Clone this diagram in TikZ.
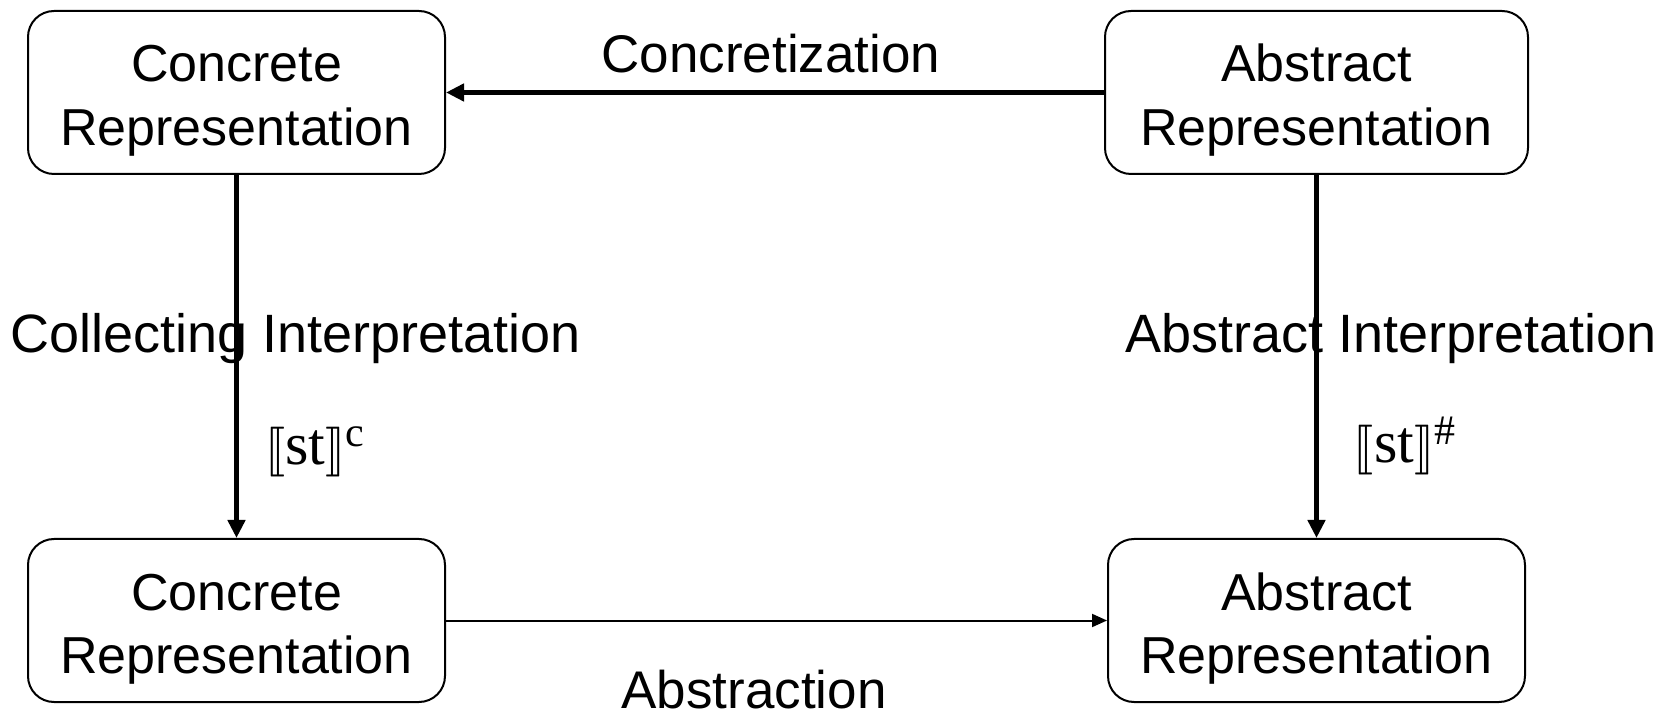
\documentclass[tikz,border=0pt]{standalone}
\usepackage{fontspec}
\usepackage{stmaryrd}
\setmainfont{Liberation Sans}
\newfontfamily\semfont{Liberation Serif}
\usepackage{tikz}
\usetikzlibrary{arrows.meta}
\usetikzlibrary{positioning}

\tikzset{
	repbox/.style={rectangle,draw,rounded corners=13pt,line width=1pt,minimum width=208.5pt,minimum height=81.5pt,align=center,text height=59pt,text depth=5.5pt,font=\fontsize{26}{32}\selectfont},
	steplabel/.style={font=\fontsize{26.5}{32}\selectfont,anchor=base,inner sep=0pt},
	semlabel/.style={font=\semfont\fontsize{30}{34}\selectfont,inner sep=0pt},
	thickarrow/.style={line width=2.5pt,-{Triangle[length=9pt,width=8.5pt]}},
	thinarrow/.style={line width=1pt,-{Triangle[length=7.5pt,width=6.5pt]}}
}

\begin{document}
\begin{tikzpicture}[x=0.5pt,y=-0.5pt]
	\useasboundingbox (0,0) rectangle (1677,716);
	\node[repbox] (ConcreteTop) at (236.5,92.5) {Concrete\\Representation};
	\node[repbox,minimum width=211.5pt] (AbstractTop) at (1316.5,92.5) {Abstract\\Representation};
	\node[repbox] (ConcreteBottom) at (236.5,620.5) {Concrete\\Representation};
	\node[repbox] (AbstractBottom) at (1316.5,620.5) {Abstract\\Representation};
	\draw[thickarrow] (AbstractTop) -- (ConcreteTop);
	\draw[thickarrow] (ConcreteTop) -- (ConcreteBottom);
	\draw[thickarrow] (AbstractTop) -- (AbstractBottom);
	\draw[thinarrow] (ConcreteBottom) -- (AbstractBottom);
	\node[steplabel] (Concretization) at (771,73) {Concretization};
	\node[steplabel] (Abstraction) at (754,708) {Abstraction};
	\node[steplabel,font=\fontsize{27}{32}\selectfont] (CollectingInterp) at (296,353) {Collecting Interpretation};
	\node[steplabel,font=\fontsize{27}{32}\selectfont] (AbstractInterp) at (1391,353) {Abstract Interpretation};
	\node[semlabel] (CollectingSem) at (315,452) {$\llbracket$st$\rrbracket$\textsuperscript{c}};
	\node[semlabel] (AbstractSem) at (1405,446) {$\llbracket$st$\rrbracket$\textsuperscript{\#}};
\end{tikzpicture}
\end{document}
